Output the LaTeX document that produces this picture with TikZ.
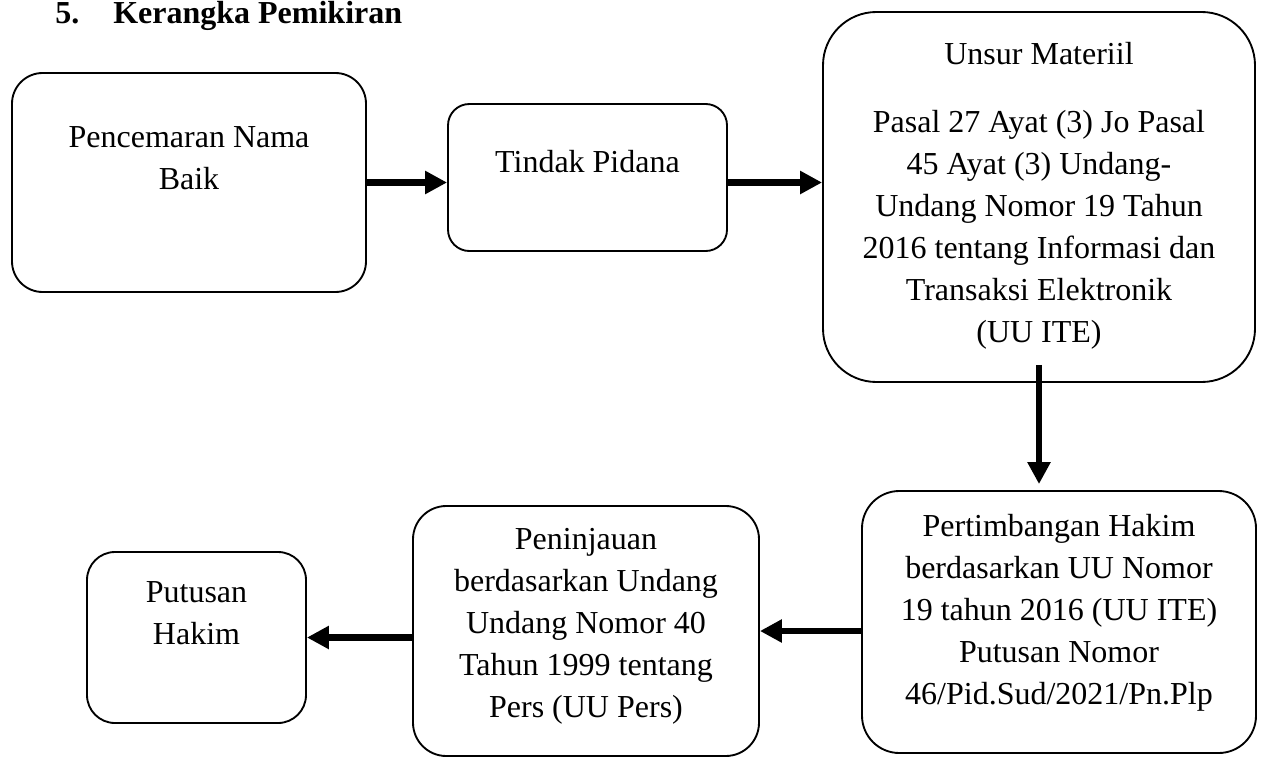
\documentclass[tikz,border=0pt]{standalone}
\usepackage{fontspec}
\setmainfont{Liberation Serif}
\usetikzlibrary{positioning,arrows.meta}

\begin{document}
\begin{tikzpicture}[x=0.75pt, y=-0.75pt,
  block/.style={rectangle, draw, line width=1.4pt},
  words/.style={align=center, inner sep=0pt, font=\fontsize{24pt}{31.5pt}\selectfont, execute at begin node=\strut},
  link/.style={line width=5pt, -{Triangle[width=16.5pt,length=16.5pt]}}]

\useasboundingbox (0,0) rectangle (1263,757);

\node [anchor=base west, inner sep=0pt, font=\fontsize{24pt}{31.5pt}\selectfont\bfseries] (judul) at (55,23) {5.\hspace{25.5pt}Kerangka Pemikiran};

\node [block, minimum width=265.5pt, minimum height=164.25pt, rounded corners=23pt] (pencemaran) at (189,182.5) {};
\node [words, below=41pt of pencemaran.north] (pencemaranteks) {Pencemaran Nama\\Baik};

\node [block, minimum width=209.25pt, minimum height=110.25pt, rounded corners=16pt] (tindak) at (587.5,177.5) {};
\node [words, below=29.7pt of tindak.north] (tindakteks) {Tindak Pidana};

\node [block, minimum width=324pt, minimum height=277.5pt, rounded corners=40pt] (unsur) at (1039,197) {};
\node [words, below=23pt of unsur.north] (unsurteks) {Unsur Materiil\\[19.5pt]Pasal 27 Ayat (3) Jo Pasal\\45 Ayat (3) Undang-\\Undang Nomor 19 Tahun\\2016 tentang Informasi dan\\Transaksi Elektronik\\(UU ITE)};

\node [block, minimum width=295.5pt, minimum height=196.5pt, rounded corners=28pt] (pertimbangan) at (1059,622) {};
\node [words, below=17.7pt of pertimbangan.north] (pertimbanganteks) {Pertimbangan Hakim\\berdasarkan UU Nomor\\19 tahun 2016 (UU ITE)\\Putusan Nomor\\46/Pid.Sud/2021/Pn.Plp};

\node [block, minimum width=259.5pt, minimum height=187.5pt, rounded corners=25pt] (peninjauan) at (586,631) {};
\node [words, below=17pt of peninjauan.north] (peninjauanteks) {Peninjauan\\berdasarkan Undang\\Undang Nomor 40\\Tahun 1999 tentang\\Pers (UU Pers)};

\node [block, minimum width=164.25pt, minimum height=128.25pt, rounded corners=21pt] (putusan) at (196.5,637.5) {};
\node [words, below=23pt of putusan.north] (putusanteks) {Putusan\\Hakim};

\draw [link] (pencemaran.east) -- (pencemaran.east -| tindak.west);
\draw [link] (tindak.east |- pencemaran.east) -- (unsur.west |- pencemaran.east);
\draw [link] ([yshift=13.5pt]unsur.south) -- ([yshift=4.5pt]unsur.south |- pertimbangan.north);
\draw [link] (pertimbangan.west |- peninjauan.east) -- (peninjauan.east);
\draw [link] (peninjauan.west |- putusan.east) -- (putusan.east);

\end{tikzpicture}
\end{document}
